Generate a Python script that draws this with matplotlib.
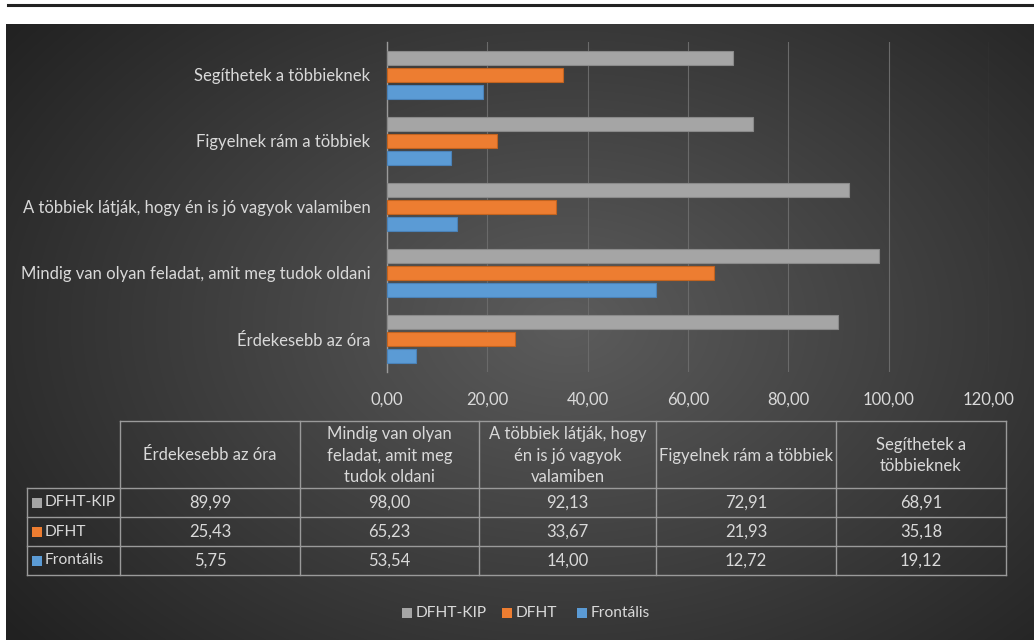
import numpy as np
import matplotlib
matplotlib.use("Agg")
import matplotlib.pyplot as plt
from matplotlib.patches import Rectangle

plt.rcParams['font.family'] = ['Lato', 'DejaVu Sans']

categories = ["Érdekesebb az óra",
              "Mindig van olyan feladat, amit meg tudok oldani",
              "A többiek látják, hogy én is jó vagyok valamiben",
              "Figyelnek rám a többiek",
              "Segíthetek a többieknek"]
table_headers = ["Érdekesebb az óra",
                 "Mindig van olyan\nfeladat, amit meg\ntudok oldani",
                 "A többiek látják, hogy\nén is jó vagyok\nvalamiben",
                 "Figyelnek rám a többiek",
                 "Segíthetek a\ntöbbieknek"]
series_names = ["DFHT-KIP", "DFHT", "Frontális"]
dfht_kip = [89.99, 98.00, 92.13, 72.91, 68.91]
dfht = [25.43, 65.23, 33.67, 21.93, 35.18]
frontalis = [5.75, 53.54, 14.00, 12.72, 19.12]
xticks = [0, 20, 40, 60, 80, 100, 120]

colors = ["#A5A5A5", "#ED7D31", "#5B9BD5"]
edges = ["#8a8a8a", "#c2631f", "#4a82b8"]
txt = "#D9D9D9"
fs = 12
fs_name = 11.2

W, H = 1034, 640
fig = plt.figure(figsize=(W / 100, H / 100), dpi=100)
fig.patch.set_facecolor("white")

# background axes in pixel coordinates
bg = fig.add_axes([0, 0, 1, 1])
bg.set_xlim(0, W)
bg.set_ylim(H, 0)
bg.axis("off")
yy, xx = np.mgrid[0:616, 0:1028]
cx, cy = 560, 300
r = np.sqrt(((xx - cx) / 620.0) ** 2 + ((yy - cy) / 430.0) ** 2)
v = np.clip(0.36 - 0.20 * r, 0.13, 0.4)
img = np.dstack([v, v, v])
bg.imshow(img, extent=[6, 1034, 640, 24], aspect="auto", zorder=0)
bg.plot([8, 1034], [5, 5], color="#222222", lw=2.2, zorder=1)

# table
col_x = [120, 300, 479, 656, 836, 1006]
row_y = [421, 488, 517, 546, 575]
lc = "#9a9a9a"
lw = 1.0
bg.plot([col_x[0], col_x[-1]], [row_y[0], row_y[0]], color=lc, lw=lw)
for y in row_y[1:]:
    bg.plot([27, col_x[-1]], [y, y], color=lc, lw=lw)
for x in col_x:
    bg.plot([x, x], [row_y[0], row_y[-1]], color=lc, lw=lw)
bg.plot([27, 27], [row_y[1], row_y[-1]], color=lc, lw=lw)

for j, h in enumerate(table_headers):
    bg.text((col_x[j] + col_x[j + 1]) / 2, (row_y[0] + row_y[1]) / 2 + 1, h,
            ha="center", va="center", color=txt, fontsize=fs, linespacing=1.45)
series_vals = [dfht_kip, dfht, frontalis]
for i, (name, vals) in enumerate(zip(series_names, series_vals)):
    yc = (row_y[i + 1] + row_y[i + 2]) / 2
    bg.add_patch(Rectangle((32, yc - 5), 10, 10, facecolor=colors[i], edgecolor="none"))
    bg.text(45, yc, name, ha="left", va="center", color=txt, fontsize=fs_name)
    for j, val in enumerate(vals):
        bg.text((col_x[j] + col_x[j + 1]) / 2, yc, f"{val:.2f}".replace(".", ","),
                ha="center", va="center", color=txt, fontsize=fs)

# legend
leg_items = [(402, series_names[0]), (502, series_names[1]), (577, series_names[2])]
for i, (lx, name) in enumerate(leg_items):
    bg.add_patch(Rectangle((lx, 608), 10, 10, facecolor=colors[i], edgecolor="none"))
    bg.text(lx + 14, 613, name, ha="left", va="center", color=txt, fontsize=fs_name)

# main bar axes
ax = fig.add_axes([387 / W, 1 - 372 / H, (989 - 387) / W, (372 - 42) / H])
ax.patch.set_alpha(0)
y = np.arange(len(categories))
off = 0.26
hgt = 0.215
for k, vals in enumerate(series_vals):
    ax.barh(y + off * (1 - k), vals, height=hgt, color=colors[k],
            edgecolor=edges[k], linewidth=0.8, zorder=3)
ax.set_xlim(0, 120)
ax.set_ylim(-0.5, len(categories) - 0.5)
ax.set_xticks(xticks)
ax.set_xticklabels([f"{t:.2f}".replace(".", ",") for t in xticks], color=txt, fontsize=fs)
ax.set_yticks(y)
ax.set_yticklabels(categories, color=txt, fontsize=fs)
ax.tick_params(length=0, pad=12)
ax.tick_params(axis="x", pad=14)
ax.grid(axis="x", color="#6a6a6a", lw=0.8, zorder=0)
for s in ["top", "right", "bottom"]:
    ax.spines[s].set_visible(False)
ax.spines["left"].set_color("#9a9a9a")
ax.spines["left"].set_linewidth(1.0)

fig.savefig("out.png", dpi=100)
